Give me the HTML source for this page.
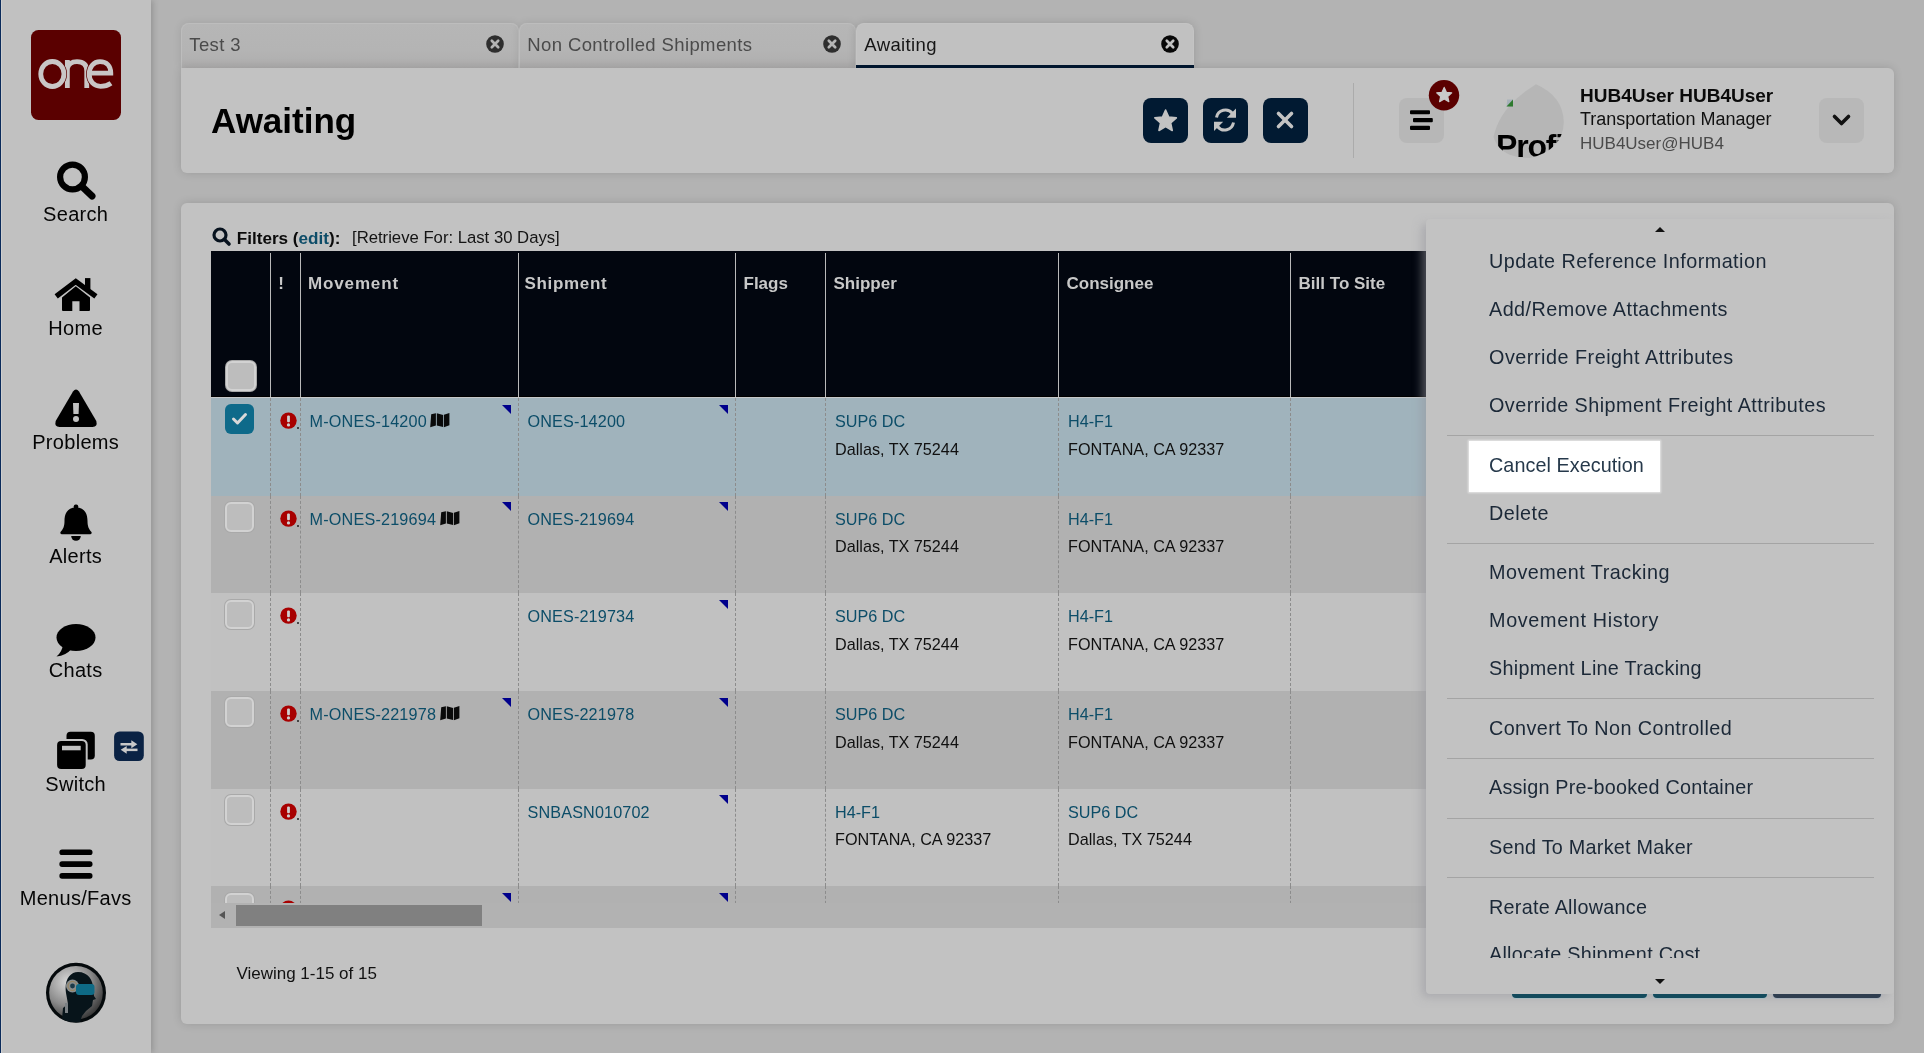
<!DOCTYPE html>
<html><head><meta charset="utf-8">
<style>
*{box-sizing:border-box;margin:0;padding:0}
html,body{width:1924px;height:1053px;overflow:hidden}
body{background:#b3b3b3;font-family:"Liberation Sans",sans-serif;position:relative;color:#111;-webkit-font-smoothing:antialiased}
#root{position:absolute;left:0;top:0;width:1924px;height:1053px;will-change:transform}
.a{position:absolute}
.t{position:absolute;line-height:1;white-space:nowrap}
#side{left:0;top:0;width:151px;height:1053px;background:#c1c1c1;border-left:1px solid #0a2a5a;box-shadow:2px 0 6px rgba(0,0,0,.18)}
#side:after{content:"";position:absolute;left:0;top:0;width:1px;height:100%;background:#cfcfcf}
.lbl{position:absolute;left:0;width:151px;text-align:center;font-size:20px;letter-spacing:.3px;text-indent:.3px;line-height:1;color:#050505}
.tab{position:absolute;top:23px;height:45px;border:1px solid #bdbdbd;border-bottom:none;border-radius:8px 8px 0 0;background:linear-gradient(#b6b6b6,#b4b4b4 60%,#aeadad);box-shadow:0 0 9px rgba(0,0,0,.1)}
.tab .tt{position:absolute;left:7.3px;top:12.1px;letter-spacing:.38px;font-size:18.5px;line-height:1;color:#4b4b4b;white-space:nowrap}
.tab .x{position:absolute;right:14px;top:11.2px;width:18px;height:18px}
.btn{top:98px;width:45px;height:45px;border-radius:8px;background:#011a32}
.panel{position:absolute;background:#c2c2c2;box-shadow:0 0 10px rgba(0,0,0,.14)}
</style><style>
.cb{width:29.5px;height:29.5px;border-radius:6px;background:#bdbdbd;border:2px solid #d2d2d2;box-shadow:0 0 0 1px #a9a9a9}
.cbc{width:29.5px;height:29.5px;border-radius:6px;background:#0e6a8a}
.dl{width:0;border-left:1px dashed #8c8c8c}
.tri{width:0;height:0;border-top:9.2px solid #00008c;border-left:9.5px solid transparent}
</style></head><body><div id="root">

<!-- SIDEBAR -->
<div id="side" class="a">
</div>
<svg class="a" style="left:0;top:0" width="151" height="1053" viewBox="0 0 151 1053">
 <defs>
  <radialGradient id="avg" cx="0.35" cy="0.3" r="0.8"><stop offset="0" stop-color="#d8d8d8"/><stop offset="0.55" stop-color="#8a8a8a"/><stop offset="1" stop-color="#2a2a2a"/></radialGradient>
 </defs>
 <!-- logo -->
 <rect x="31" y="30" width="90" height="90" rx="7.5" fill="#5a0000"/>
 <g fill="none" stroke-width="4.8">
  <g stroke="#c9c6c6"><path d="M67.35,88 V60.1 M67.35,68.5 C68.5,63.5 72.5,61.7 77,61.7 C83,61.7 86.75,64.5 86.75,71 V88"/></g>
  <g stroke="#5a0000" stroke-width="6.2"><ellipse cx="52.35" cy="74" rx="11.6" ry="12.5"/></g><g stroke="#c9c6c6"><ellipse cx="52.35" cy="74" rx="11.6" ry="12.5"/></g>
  <g stroke="#5a0000" stroke-width="6.2"><path d="M89.5,73.1 H110.8 C110.8,66 106.5,61.7 100,61.7 C93.5,61.7 89.2,67 89.2,74 C89.2,81.5 94,86.3 100.5,86.3 C105,86.3 108.5,85 111,83.2"/></g><g stroke="#c9c6c6"><path d="M89.5,73.1 H110.8 C110.8,66 106.5,61.7 100,61.7 C93.5,61.7 89.2,67 89.2,74 C89.2,81.5 94,86.3 100.5,86.3 C105,86.3 108.5,85 111,83.2"/></g>
 </g>
 <g fill="#000">
 <!-- search -->
 <circle cx="72.5" cy="177" r="12.4" fill="none" stroke="#000" stroke-width="6.2"/>
 <line x1="82.5" y1="187" x2="92" y2="196" stroke="#000" stroke-width="7" stroke-linecap="round"/>
 <!-- home -->
 <path d="M56.2,296.4 L75.8,281.5 L95.9,296.4" fill="none" stroke="#000" stroke-width="5.3" stroke-linejoin="miter"/>
 <rect x="85" y="278.1" width="5.4" height="11"/>
 <path d="M62,297.6 L75.8,286.3 L90,297.6 V310 Q90,311 89,311 H79.5 V301.3 H72.3 V311 H63 Q62,311 62,310 Z"/>
 <!-- warning -->
 <path d="M73,391.5 Q76,387.5 79,391.5 L96.3,421 Q97.8,426.8 92.5,427 H59.5 Q54.2,426.8 55.7,421 Z"/>
 <path d="M73,403 H79 L78.6,414 H73.4 Z" fill="#c1c1c1"/>
 <circle cx="76" cy="419.1" r="3" fill="#c1c1c1"/>
 <!-- bell -->
 <rect x="73.8" y="504.5" width="4.4" height="5" rx="1.8"/>
 <path d="M76,507.5 C66.5,507.5 64.5,515 64.5,521 C64.5,526.5 63,529.5 60.5,532 Q59.5,533.5 61.5,534.2 H90.5 Q92.5,533.5 91.5,532 C89,529.5 87.5,526.5 87.5,521 C87.5,515 85.5,507.5 76,507.5 Z"/>
 <path d="M71.2,536 H80.8 A4.8,4.8 0 0 1 71.2,536 Z"/>
 <!-- chats -->
 <ellipse cx="76" cy="637.5" rx="19.5" ry="13.4"/>
 <path d="M63,645 Q62,652 56.5,656.5 Q66,655.5 71,649.5 Z"/>
 <!-- switch (clone) -->
 <rect x="66.5" y="731.8" width="28.3" height="27.6" rx="4"/>
 <rect x="55.1" y="738.9" width="32.6" height="32" rx="5.5" fill="#c1c1c1"/>
 <rect x="57.1" y="740.9" width="28.6" height="28" rx="4"/>
 <rect x="62" y="745.8" width="18.7" height="4.5" fill="#c1c1c1"/>
 <!-- switch badge -->
 <rect x="114.1" y="731.5" width="29.7" height="29.5" rx="5.5" fill="#0a2244"/>
 <g fill="#c8c8c8">
  <rect x="120.5" y="743" width="12" height="2.5"/>
  <path d="M131.3,740.3 L137.3,744.25 L131.3,748.2 Z"/>
  <rect x="125.5" y="748.6" width="12" height="2.5"/>
  <path d="M126.7,745.9 L120.7,749.85 L126.7,753.8 Z"/>
 </g>
 <!-- bars -->
 <rect x="59.4" y="849.5" width="33.1" height="5.6" rx="2.6"/>
 <rect x="59.4" y="861.3" width="33.1" height="5.6" rx="2.6"/>
 <rect x="59.4" y="873.1" width="33.1" height="5.6" rx="2.6"/>
 </g>
 <!-- avatar -->
 <circle cx="76" cy="992.7" r="30" fill="#050a0c"/>
 <circle cx="76" cy="992.7" r="26.8" fill="url(#avg)"/>
 <path d="M62,1019 L63,1008 L68,1004 L66,993 C64,980 70,972 78,972 C88,972 93,980 93,988 L94,996 L96,999 L93,1000 L92,1006 L86,1011 L82,1016 L80,1022 Q70,1023 62,1019 Z" fill="#07141a"/>
 <circle cx="72.5" cy="986" r="6.5" fill="#8a8e90"/>
 <circle cx="72.5" cy="986" r="4.5" fill="none" stroke="#a08040" stroke-width="0.7"/>
 <circle cx="72.5" cy="986" r="2.4" fill="#1c3a48"/>
 <rect x="76" y="984" width="18.5" height="11" rx="3" fill="#0e6a85"/>
 <rect x="65" y="1003" width="3" height="10" fill="#7a8084"/>
</svg>


<div class="lbl" style="top:204.07px">Search</div>
<div class="lbl" style="top:318.07px">Home</div>
<div class="lbl" style="top:432.07px">Problems</div>
<div class="lbl" style="top:546.07px">Alerts</div>
<div class="lbl" style="top:660.07px">Chats</div>
<div class="lbl" style="top:774.07px">Switch</div>
<div class="lbl" style="top:888.07px">Menus/Favs</div>

<!-- TABS -->
<div class="tab" style="left:181px;width:338px"><div class="tt">Test 3</div><svg class="x" viewBox="0 0 18 18"><circle cx="9" cy="9" r="8.8" fill="#2e2e2e"/><path d="M5.8,5.8 L12.2,12.2 M12.2,5.8 L5.8,12.2" stroke="#b4b4b4" stroke-width="2.7" stroke-linecap="round"/></svg></div>
<div class="tab" style="left:519px;width:337px"><div class="tt">Non Controlled Shipments</div><svg class="x" viewBox="0 0 18 18"><circle cx="9" cy="9" r="8.8" fill="#2e2e2e"/><path d="M5.8,5.8 L12.2,12.2 M12.2,5.8 L5.8,12.2" stroke="#b4b4b4" stroke-width="2.7" stroke-linecap="round"/></svg></div>
<div class="tab" style="left:856px;width:338px;background:#c1c1c1;border-color:#c4c4c4;z-index:3;box-shadow:0 0 10px rgba(0,0,0,.14);clip-path:inset(-20px -20px 0 -20px)"><div class="tt" style="color:#151515">Awaiting</div><svg class="x" viewBox="0 0 18 18"><circle cx="9" cy="9" r="8.8" fill="#080808"/><path d="M5.8,5.8 L12.2,12.2 M12.2,5.8 L5.8,12.2" stroke="#c1c1c1" stroke-width="2.7" stroke-linecap="round"/></svg><div class="a" style="left:-1px;right:-1px;bottom:0;height:3px;background:#01162e"></div></div>

<!-- HEADER PANEL -->
<div class="panel" style="left:181px;top:68px;width:1713px;height:105px;border-radius:0 6px 6px 6px"></div>
<div class="t" style="left:211px;top:102.9px;font-size:35px;font-weight:bold;color:#000">Awaiting</div>
<div class="a btn" style="left:1143px"></div>
<div class="a btn" style="left:1203px"></div>
<div class="a btn" style="left:1263px"></div>
<svg class="a" style="left:1143px;top:98px" width="170" height="45" viewBox="1143 98 170 45">
 <!-- star -->
 <path fill="#c3c3c3" d="M1165.60,110.00 L1168.72,117.01 L1176.35,117.81 L1170.64,122.94 L1172.24,130.44 L1165.60,126.60 L1158.96,130.44 L1160.56,122.94 L1154.85,117.81 L1162.48,117.01 Z" stroke="#c3c3c3" stroke-width="1.6" stroke-linejoin="round"/>
 <!-- refresh -->
 <g fill="none" stroke="#c3c3c3" stroke-width="3" stroke-linecap="butt">
  <path d="M1216.5,117.5 A9,9 0 0 1 1232.5,113.5"/>
  <path d="M1233.5,122.5 A9,9 0 0 1 1217.5,126.5"/>
 </g>
 <path fill="#c3c3c3" d="M1236,108.5 V117.8 H1226.8 Z"/>
 <path fill="#c3c3c3" d="M1214,131 V121.7 H1223.2 Z"/>
 <!-- close -->
 <g stroke="#c3c3c3" stroke-width="3.6" stroke-linecap="round">
  <line x1="1278.5" y1="113.5" x2="1291.5" y2="126.5"/>
  <line x1="1291.5" y1="113.5" x2="1278.5" y2="126.5"/>
 </g>
</svg>
<div class="a" style="left:1353px;top:83px;width:1px;height:75px;background:#ababab"></div>
<div class="a" style="left:1399px;top:98px;width:45px;height:45px;border-radius:8px;background:#b7b7b7"></div>
<svg class="a" style="left:1399px;top:78px" width="70" height="70" viewBox="1399 78 70 70">
 <rect x="1410" y="110.2" width="20" height="4" rx="1"/>
 <rect x="1413" y="117.9" width="19.8" height="4.3" rx="1"/>
 <rect x="1410" y="125.7" width="20" height="4.2" rx="1"/>
 <circle cx="1444" cy="95.2" r="15.2" fill="#5b0000"/>
 <path fill="#c9c9c9" d="M1444.20,87.40 L1446.37,92.31 L1451.71,92.86 L1447.72,96.44 L1448.84,101.69 L1444.20,99.00 L1439.56,101.69 L1440.68,96.44 L1436.69,92.86 L1442.03,92.31 Z" stroke="#c9c9c9" stroke-width="1.2" stroke-linejoin="round"/>
</svg>
<!-- broken avatar -->
<svg class="a" style="left:1480px;top:80px" width="90" height="82" viewBox="1480 80 90 82">
 <defs><clipPath id="avc"><path d="M1536,84.2 Q1563,96 1563.8,122 Q1563,150 1530,158 Q1500,158 1493.5,137 Q1500,106 1536,84.2 Z"/></clipPath></defs>
 <path d="M1536,84.2 Q1563,96 1563.8,122 Q1563,150 1530,158 Q1500,158 1493.5,137 Q1500,106 1536,84.2 Z" fill="#b6b6b6"/>
 <g clip-path="url(#avc)">
  <text x="1496" y="156.6" font-family="Liberation Sans" font-weight="bold" font-size="32" letter-spacing="-1.2" fill="#000">Profile</text>
 </g>
 <path d="M1507.2,99.5 L1513,99.5 L1513,106.5 L1506.6,106.5 Z" fill="#6a8aa8" opacity=".3"/>
 <path d="M1513,99.5 L1513,106.5 L1506.5,106.5 Z" fill="#2e7a2e"/>
</svg>
<div class="t" style="left:1580px;top:85.7px;font-size:19px;font-weight:bold;color:#0a0a0a">HUB4User HUB4User</div>
<div class="t" style="left:1580px;top:109.5px;font-size:18px;color:#111">Transportation Manager</div>
<div class="t" style="left:1580px;top:134.6px;font-size:17px;color:#4a4a4a">HUB4User@HUB4</div>
<div class="a" style="left:1819px;top:98px;width:45px;height:45px;border-radius:8px;background:#b8b8b8"></div>
<svg class="a" style="left:1819px;top:98px" width="45" height="45" viewBox="0 0 45 45">
 <path d="M15.5,18.5 L22.5,25.5 L29.5,18.5" fill="none" stroke="#111" stroke-width="3.6" stroke-linecap="round" stroke-linejoin="round"/>
</svg>

<!-- MAIN PANEL -->
<div class="panel" style="left:181px;top:203px;width:1713px;height:821px;border-radius:6px"></div>
<svg class="a" style="left:211px;top:226px" width="22" height="22" viewBox="0 0 22 22"><circle cx="9" cy="9" r="6" fill="none" stroke="#07121e" stroke-width="3.2"/><line x1="13.5" y1="13.5" x2="18" y2="18" stroke="#07121e" stroke-width="3.6" stroke-linecap="round"/></svg>
<div class="t" style="left:236.8px;top:229.5px;font-size:17.1px;font-weight:bold;color:#0a0a0a">Filters (<span style="color:#0d4c68">edit</span>):</div>
<div class="t" style="left:352px;top:229.8px;font-size:16.7px;color:#141414">[Retrieve For: Last 30 Days]</div>
<div id="tbl" class="a" style="left:211px;top:251px;width:1215px;height:677px;overflow:hidden">
<div class="a" style="left:0;top:0;width:1215px;height:146px;background:#02060f;border-bottom:1px solid #000"></div><div class="a" style="left:0;top:146px;width:1215px;height:1px;background:#c6c8ca"></div>
<div class="a" style="left:59.0px;top:2px;width:1px;height:144px;background:#b9b9b9"></div>
<div class="a" style="left:88.8px;top:2px;width:1px;height:144px;background:#b9b9b9"></div>
<div class="a" style="left:306.5px;top:2px;width:1px;height:144px;background:#b9b9b9"></div>
<div class="a" style="left:523.5px;top:2px;width:1px;height:144px;background:#b9b9b9"></div>
<div class="a" style="left:613.5px;top:2px;width:1px;height:144px;background:#b9b9b9"></div>
<div class="a" style="left:847.0px;top:2px;width:1px;height:144px;background:#b9b9b9"></div>
<div class="a" style="left:1079.0px;top:2px;width:1px;height:144px;background:#b9b9b9"></div>
<div class="t" style="left:67.3px;top:23.91px;font-size:17px;font-weight:bold;color:#c8c8c8;letter-spacing:0.5px">!</div>
<div class="t" style="left:97.0px;top:23.91px;font-size:17px;font-weight:bold;color:#c8c8c8;letter-spacing:0.86px">Movement</div>
<div class="t" style="left:313.5px;top:23.91px;font-size:17px;font-weight:bold;color:#c8c8c8;letter-spacing:0.67px">Shipment</div>
<div class="t" style="left:532.5px;top:23.91px;font-size:17px;font-weight:bold;color:#c8c8c8;letter-spacing:0px">Flags</div>
<div class="t" style="left:622.5px;top:23.91px;font-size:17px;font-weight:bold;color:#c8c8c8;letter-spacing:0px">Shipper</div>
<div class="t" style="left:855.5px;top:23.91px;font-size:17px;font-weight:bold;color:#c8c8c8;letter-spacing:0px">Consignee</div>
<div class="t" style="left:1087.6px;top:23.91px;font-size:17px;font-weight:bold;color:#c8c8c8;letter-spacing:0px">Bill To Site</div>
<div class="a cb" style="left:15px;top:110.30000000000001px;filter:blur(.4px)"></div>
<div class="a" style="left:0;top:147.0px;width:1215px;height:97.7px;background:#a0b3bc"></div>
<div class="a dl" style="left:59.0px;top:147.0px;height:97.7px"></div>
<div class="a dl" style="left:88.8px;top:147.0px;height:97.7px"></div>
<div class="a dl" style="left:306.5px;top:147.0px;height:97.7px"></div>
<div class="a dl" style="left:523.5px;top:147.0px;height:97.7px"></div>
<div class="a dl" style="left:613.5px;top:147.0px;height:97.7px"></div>
<div class="a dl" style="left:847.0px;top:147.0px;height:97.7px"></div>
<div class="a dl" style="left:1079.0px;top:147.0px;height:97.7px"></div>
<div class="a cbc" style="left:13.7px;top:153.4px"><svg width="29" height="29" viewBox="0 0 29 29"><path d="M8.5,15 L12.5,19 L20.5,10.5" fill="none" stroke="#d8d8d8" stroke-width="3" stroke-linecap="round" stroke-linejoin="round"/></svg></div>
<svg class="a" style="left:68.5px;top:161.0px" width="20" height="18" viewBox="0 0 20 18"><circle cx="8.5" cy="8.6" r="8.2" fill="#a80000"/><rect x="7.1" y="3.6" width="2.8" height="6.6" rx="1" fill="#d0d0d0"/><circle cx="8.5" cy="12.9" r="1.6" fill="#d0d0d0"/><circle cx="18" cy="16" r="1" fill="#222"/></svg>
<div class="t" style="left:98.6px;top:162.09px;font-size:16.2px;color:#0c4d68;letter-spacing:0.18px">M-ONES-14200</div>
<svg class="a" style="left:219.4px;top:162.3px" width="20" height="15" viewBox="0 0 20 15"><path d="M1.2,1.3 L5.9,0.2 V12.5 L0.2,14.3 Z M6.8,0.2 L13.1,2 V14 L6.8,12.5 Z M13.9,1.8 L19.4,0 V12.2 L13.9,14.3 Z" fill="#0a0a0a"/></svg>
<div class="a tri" style="left:291.2px;top:153.6px"></div>
<div class="a tri" style="left:508.2px;top:153.6px"></div>
<div class="t" style="left:316.5px;top:162.09px;font-size:16.2px;color:#0c4d68;letter-spacing:0.14px">ONES-14200</div>
<div class="t" style="left:624.0px;top:162.09px;font-size:16.2px;color:#0c4d68">SUP6 DC</div>
<div class="t" style="left:624.0px;top:189.59px;font-size:16.2px;color:#101010">Dallas, TX 75244</div>
<div class="t" style="left:857.0px;top:162.09px;font-size:16.2px;color:#0c4d68">H4-F1</div>
<div class="t" style="left:857.0px;top:189.59px;font-size:16.2px;color:#101010">FONTANA, CA 92337</div>
<div class="a" style="left:0;top:244.7px;width:1215px;height:97.7px;background:#b1b1b1"></div>
<div class="a dl" style="left:59.0px;top:244.7px;height:97.7px"></div>
<div class="a dl" style="left:88.8px;top:244.7px;height:97.7px"></div>
<div class="a dl" style="left:306.5px;top:244.7px;height:97.7px"></div>
<div class="a dl" style="left:523.5px;top:244.7px;height:97.7px"></div>
<div class="a dl" style="left:613.5px;top:244.7px;height:97.7px"></div>
<div class="a dl" style="left:847.0px;top:244.7px;height:97.7px"></div>
<div class="a dl" style="left:1079.0px;top:244.7px;height:97.7px"></div>
<div class="a cb" style="left:13.7px;top:251.1px"></div>
<svg class="a" style="left:68.5px;top:258.7px" width="20" height="18" viewBox="0 0 20 18"><circle cx="8.5" cy="8.6" r="8.2" fill="#a80000"/><rect x="7.1" y="3.6" width="2.8" height="6.6" rx="1" fill="#d0d0d0"/><circle cx="8.5" cy="12.9" r="1.6" fill="#d0d0d0"/><circle cx="18" cy="16" r="1" fill="#222"/></svg>
<div class="t" style="left:98.6px;top:259.76px;font-size:16.2px;color:#0c4d68;letter-spacing:0.18px">M-ONES-219694</div>
<svg class="a" style="left:229.1px;top:260.0px" width="20" height="15" viewBox="0 0 20 15"><path d="M1.2,1.3 L5.9,0.2 V12.5 L0.2,14.3 Z M6.8,0.2 L13.1,2 V14 L6.8,12.5 Z M13.9,1.8 L19.4,0 V12.2 L13.9,14.3 Z" fill="#0a0a0a"/></svg>
<div class="a tri" style="left:291.2px;top:251.3px"></div>
<div class="a tri" style="left:508.2px;top:251.3px"></div>
<div class="t" style="left:316.5px;top:259.76px;font-size:16.2px;color:#0c4d68;letter-spacing:0.14px">ONES-219694</div>
<div class="t" style="left:624.0px;top:259.76px;font-size:16.2px;color:#0c4d68">SUP6 DC</div>
<div class="t" style="left:624.0px;top:287.26px;font-size:16.2px;color:#101010">Dallas, TX 75244</div>
<div class="t" style="left:857.0px;top:259.76px;font-size:16.2px;color:#0c4d68">H4-F1</div>
<div class="t" style="left:857.0px;top:287.26px;font-size:16.2px;color:#101010">FONTANA, CA 92337</div>
<div class="a" style="left:0;top:342.3px;width:1215px;height:97.7px;background:#c1c1c1"></div>
<div class="a dl" style="left:59.0px;top:342.3px;height:97.7px"></div>
<div class="a dl" style="left:88.8px;top:342.3px;height:97.7px"></div>
<div class="a dl" style="left:306.5px;top:342.3px;height:97.7px"></div>
<div class="a dl" style="left:523.5px;top:342.3px;height:97.7px"></div>
<div class="a dl" style="left:613.5px;top:342.3px;height:97.7px"></div>
<div class="a dl" style="left:847.0px;top:342.3px;height:97.7px"></div>
<div class="a dl" style="left:1079.0px;top:342.3px;height:97.7px"></div>
<div class="a cb" style="left:13.7px;top:348.7px"></div>
<svg class="a" style="left:68.5px;top:356.3px" width="20" height="18" viewBox="0 0 20 18"><circle cx="8.5" cy="8.6" r="8.2" fill="#a80000"/><rect x="7.1" y="3.6" width="2.8" height="6.6" rx="1" fill="#d0d0d0"/><circle cx="8.5" cy="12.9" r="1.6" fill="#d0d0d0"/><circle cx="18" cy="16" r="1" fill="#222"/></svg>
<div class="a tri" style="left:508.2px;top:348.9px"></div>
<div class="t" style="left:316.5px;top:357.43px;font-size:16.2px;color:#0c4d68;letter-spacing:0.14px">ONES-219734</div>
<div class="t" style="left:624.0px;top:357.43px;font-size:16.2px;color:#0c4d68">SUP6 DC</div>
<div class="t" style="left:624.0px;top:384.93px;font-size:16.2px;color:#101010">Dallas, TX 75244</div>
<div class="t" style="left:857.0px;top:357.43px;font-size:16.2px;color:#0c4d68">H4-F1</div>
<div class="t" style="left:857.0px;top:384.93px;font-size:16.2px;color:#101010">FONTANA, CA 92337</div>
<div class="a" style="left:0;top:440.0px;width:1215px;height:97.7px;background:#b1b1b1"></div>
<div class="a dl" style="left:59.0px;top:440.0px;height:97.7px"></div>
<div class="a dl" style="left:88.8px;top:440.0px;height:97.7px"></div>
<div class="a dl" style="left:306.5px;top:440.0px;height:97.7px"></div>
<div class="a dl" style="left:523.5px;top:440.0px;height:97.7px"></div>
<div class="a dl" style="left:613.5px;top:440.0px;height:97.7px"></div>
<div class="a dl" style="left:847.0px;top:440.0px;height:97.7px"></div>
<div class="a dl" style="left:1079.0px;top:440.0px;height:97.7px"></div>
<div class="a cb" style="left:13.7px;top:446.4px"></div>
<svg class="a" style="left:68.5px;top:454.0px" width="20" height="18" viewBox="0 0 20 18"><circle cx="8.5" cy="8.6" r="8.2" fill="#a80000"/><rect x="7.1" y="3.6" width="2.8" height="6.6" rx="1" fill="#d0d0d0"/><circle cx="8.5" cy="12.9" r="1.6" fill="#d0d0d0"/><circle cx="18" cy="16" r="1" fill="#222"/></svg>
<div class="t" style="left:98.6px;top:455.10px;font-size:16.2px;color:#0c4d68;letter-spacing:0.18px">M-ONES-221978</div>
<svg class="a" style="left:229.1px;top:455.3px" width="20" height="15" viewBox="0 0 20 15"><path d="M1.2,1.3 L5.9,0.2 V12.5 L0.2,14.3 Z M6.8,0.2 L13.1,2 V14 L6.8,12.5 Z M13.9,1.8 L19.4,0 V12.2 L13.9,14.3 Z" fill="#0a0a0a"/></svg>
<div class="a tri" style="left:291.2px;top:446.6px"></div>
<div class="a tri" style="left:508.2px;top:446.6px"></div>
<div class="t" style="left:316.5px;top:455.10px;font-size:16.2px;color:#0c4d68;letter-spacing:0.14px">ONES-221978</div>
<div class="t" style="left:624.0px;top:455.10px;font-size:16.2px;color:#0c4d68">SUP6 DC</div>
<div class="t" style="left:624.0px;top:482.60px;font-size:16.2px;color:#101010">Dallas, TX 75244</div>
<div class="t" style="left:857.0px;top:455.10px;font-size:16.2px;color:#0c4d68">H4-F1</div>
<div class="t" style="left:857.0px;top:482.60px;font-size:16.2px;color:#101010">FONTANA, CA 92337</div>
<div class="a" style="left:0;top:537.7px;width:1215px;height:97.7px;background:#c1c1c1"></div>
<div class="a dl" style="left:59.0px;top:537.7px;height:97.7px"></div>
<div class="a dl" style="left:88.8px;top:537.7px;height:97.7px"></div>
<div class="a dl" style="left:306.5px;top:537.7px;height:97.7px"></div>
<div class="a dl" style="left:523.5px;top:537.7px;height:97.7px"></div>
<div class="a dl" style="left:613.5px;top:537.7px;height:97.7px"></div>
<div class="a dl" style="left:847.0px;top:537.7px;height:97.7px"></div>
<div class="a dl" style="left:1079.0px;top:537.7px;height:97.7px"></div>
<div class="a cb" style="left:13.7px;top:544.1px"></div>
<svg class="a" style="left:68.5px;top:551.7px" width="20" height="18" viewBox="0 0 20 18"><circle cx="8.5" cy="8.6" r="8.2" fill="#a80000"/><rect x="7.1" y="3.6" width="2.8" height="6.6" rx="1" fill="#d0d0d0"/><circle cx="8.5" cy="12.9" r="1.6" fill="#d0d0d0"/><circle cx="18" cy="16" r="1" fill="#222"/></svg>
<div class="a tri" style="left:508.2px;top:544.3px"></div>
<div class="t" style="left:316.5px;top:552.77px;font-size:16.2px;color:#0c4d68;letter-spacing:0.14px">SNBASN010702</div>
<div class="t" style="left:624.0px;top:552.77px;font-size:16.2px;color:#0c4d68">H4-F1</div>
<div class="t" style="left:624.0px;top:580.27px;font-size:16.2px;color:#101010">FONTANA, CA 92337</div>
<div class="t" style="left:857.0px;top:552.77px;font-size:16.2px;color:#0c4d68">SUP6 DC</div>
<div class="t" style="left:857.0px;top:580.27px;font-size:16.2px;color:#101010">Dallas, TX 75244</div>
<div class="a" style="left:0;top:635.4px;width:1215px;height:96.2px;background:#b1b1b1"></div>
<div class="a dl" style="left:59.0px;top:635.4px;height:96.2px"></div>
<div class="a dl" style="left:88.8px;top:635.4px;height:96.2px"></div>
<div class="a dl" style="left:306.5px;top:635.4px;height:96.2px"></div>
<div class="a dl" style="left:523.5px;top:635.4px;height:96.2px"></div>
<div class="a dl" style="left:613.5px;top:635.4px;height:96.2px"></div>
<div class="a dl" style="left:847.0px;top:635.4px;height:96.2px"></div>
<div class="a dl" style="left:1079.0px;top:635.4px;height:96.2px"></div>
<div class="a cb" style="left:13.7px;top:641.8px"></div>
<svg class="a" style="left:68.5px;top:649.4px" width="20" height="18" viewBox="0 0 20 18"><circle cx="8.5" cy="8.6" r="8.2" fill="#a80000"/><rect x="7.1" y="3.6" width="2.8" height="6.6" rx="1" fill="#d0d0d0"/><circle cx="8.5" cy="12.9" r="1.6" fill="#d0d0d0"/><circle cx="18" cy="16" r="1" fill="#222"/></svg>
<div class="a tri" style="left:291.2px;top:642.0px"></div>
<div class="a tri" style="left:508.2px;top:642.0px"></div>
<div class="a" style="left:0;top:652px;width:1215px;height:25px;background:#b2b2b2"></div>
<div class="a" style="left:25px;top:654px;width:246px;height:20.5px;background:#808080"></div>
<div class="a" style="left:8px;top:660px;width:0;height:0;border-top:4.5px solid transparent;border-bottom:4.5px solid transparent;border-right:6px solid #555"></div>
</div>
<div class="t" style="left:236.4px;top:965.01px;font-size:17px;color:#111">Viewing 1-15 of 15</div>
<div class="a" id="menu" style="left:1426px;top:218.5px;width:467.5px;height:775.5px;background:#c2c2c2;border-radius:4px;box-shadow:-5px 4px 10px -1px rgba(150,150,156,.55)"></div>
<div class="a" style="left:1655px;top:226.5px;width:0;height:0;border-left:5.5px solid transparent;border-right:5.5px solid transparent;border-bottom:5.5px solid #111"></div>
<div class="a" style="left:1655px;top:978.5px;width:0;height:0;border-left:5.5px solid transparent;border-right:5.5px solid transparent;border-top:5.5px solid #111"></div>
<div class="a" style="left:1426px;top:240px;width:467px;height:718px;overflow:hidden">
<div class="t" style="left:63px;top:11.64px;font-size:19.8px;color:#1b2837;letter-spacing:0.459px">Update Reference Information</div>
<div class="t" style="left:63px;top:59.54px;font-size:19.8px;color:#1b2837;letter-spacing:0.457px">Add/Remove Attachments</div>
<div class="t" style="left:63px;top:107.84px;font-size:19.8px;color:#1b2837;letter-spacing:0.512px">Override Freight Attributes</div>
<div class="t" style="left:63px;top:155.84px;font-size:19.8px;color:#1b2837;letter-spacing:0.474px">Override Shipment Freight Attributes</div>
<div class="a" style="left:21px;top:195.0px;width:427px;height:1px;background:#a4a4a4"></div>
<div class="a" style="left:43px;top:201px;width:191px;height:50.5px;background:#fff;box-shadow:0 0 2px 1px rgba(255,255,255,.6)"></div>
<div class="t" style="left:63px;top:215.74px;font-size:19.8px;color:#26394b;letter-spacing:0.053px">Cancel Execution</div>
<div class="t" style="left:63px;top:263.54px;font-size:19.8px;color:#1b2837;letter-spacing:0.440px">Delete</div>
<div class="a" style="left:21px;top:302.5px;width:427px;height:1px;background:#a4a4a4"></div>
<div class="t" style="left:63px;top:323.24px;font-size:19.8px;color:#1b2837;letter-spacing:0.487px">Movement Tracking</div>
<div class="t" style="left:63px;top:371.14px;font-size:19.8px;color:#1b2837;letter-spacing:0.667px">Movement History</div>
<div class="t" style="left:63px;top:419.44px;font-size:19.8px;color:#1b2837;letter-spacing:0.281px">Shipment Line Tracking</div>
<div class="a" style="left:21px;top:458.4px;width:427px;height:1px;background:#a4a4a4"></div>
<div class="t" style="left:63px;top:479.24px;font-size:19.8px;color:#1b2837;letter-spacing:0.413px">Convert To Non Controlled</div>
<div class="a" style="left:21px;top:517.8px;width:427px;height:1px;background:#a4a4a4"></div>
<div class="t" style="left:63px;top:538.24px;font-size:19.8px;color:#1b2837;letter-spacing:0.215px">Assign Pre-booked Container</div>
<div class="a" style="left:21px;top:577.6px;width:427px;height:1px;background:#a4a4a4"></div>
<div class="t" style="left:63px;top:598.04px;font-size:19.8px;color:#1b2837;letter-spacing:0.258px">Send To Market Maker</div>
<div class="a" style="left:21px;top:636.8px;width:427px;height:1px;background:#a4a4a4"></div>
<div class="t" style="left:63px;top:657.54px;font-size:19.8px;color:#1b2837;letter-spacing:0.267px">Rerate Allowance</div>
<div class="t" style="left:63px;top:705.24px;font-size:19.8px;color:#1b2837;letter-spacing:0.262px">Allocate Shipment Cost</div>
</div>
<div class="a" style="left:1512px;top:993.6px;width:135px;height:4px;border-radius:0 0 4px 4px;background:#134a5c;box-shadow:0 0.5px 0 0.5px rgba(150,190,200,.5)"></div>
<div class="a" style="left:1653px;top:993.6px;width:114px;height:4px;border-radius:0 0 4px 4px;background:#134a5c;box-shadow:0 0.5px 0 0.5px rgba(150,190,200,.5)"></div>
<div class="a" style="left:1773px;top:993.6px;width:108px;height:4px;border-radius:0 0 4px 4px;background:#2f3e50;box-shadow:0 0.5px 0 0.5px rgba(150,170,190,.5)"></div>
</div></body></html>
